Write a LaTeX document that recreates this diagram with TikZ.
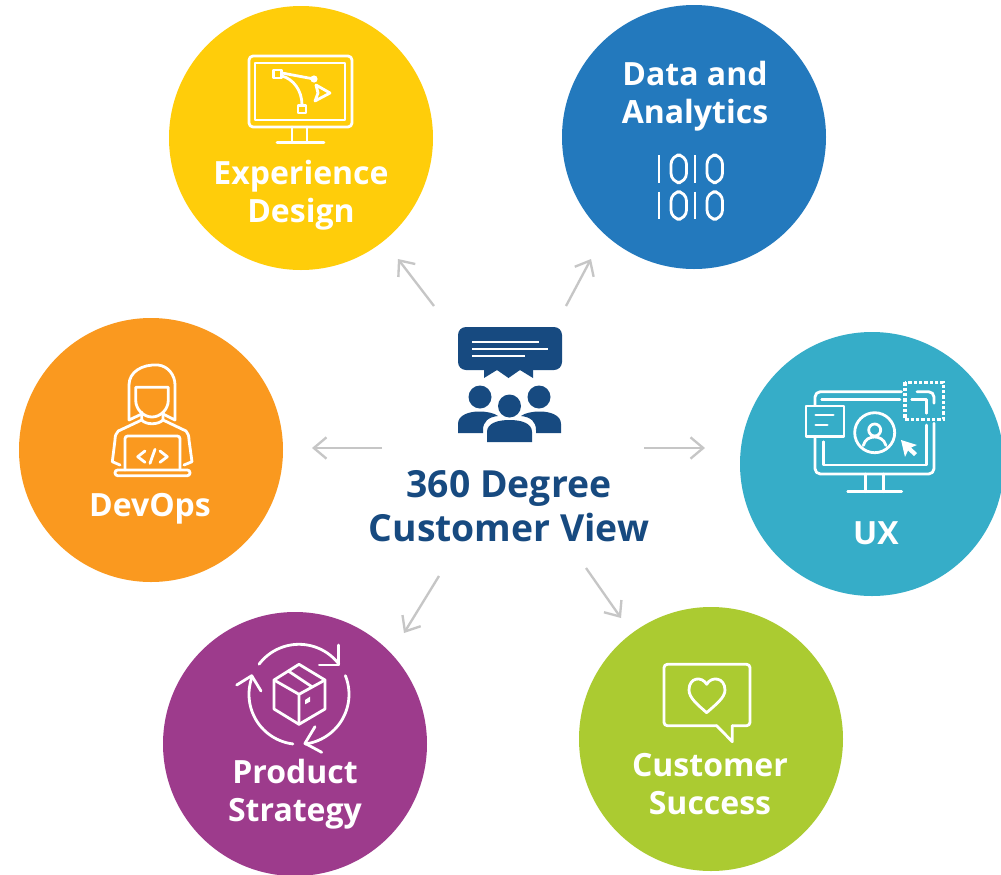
\documentclass[tikz,border=0pt]{standalone}
\usepackage{fontspec}
\setmainfont{Open Sans}
\definecolor{cyellow}{HTML}{FFCD0A}
\definecolor{cblue}{HTML}{2379BD}
\definecolor{cteal}{HTML}{36ADC8}
\definecolor{corange}{HTML}{FA991F}
\definecolor{cpurple}{HTML}{9D3B8C}
\definecolor{cgreen}{HTML}{ABCB31}
\definecolor{cnavy}{HTML}{174A80}
\definecolor{cgrey}{HTML}{C6C6C6}
\usetikzlibrary{arrows.meta}
\tikzset{
  disc/.style={circle,draw=none,minimum size=198pt,inner sep=0pt},
  lab/.style={text=white,font=\fontsize{24}{28.5}\selectfont\bfseries,align=center,inner sep=0pt},
  hublab/.style={text=cnavy,font=\fontsize{28}{33}\selectfont\bfseries,align=center,inner sep=0pt},
  ico/.style={draw=white,line width=2.1pt,line join=round,line cap=round},
  conn/.style={draw=cgrey,line width=1.75pt,-{Straight Barb[length=9.5pt,width=16pt,line width=1.75pt]}},
}
\begin{document}
\begin{tikzpicture}[x=0.75pt,y=-0.75pt]
\useasboundingbox (0,0) rectangle (1001,875);
\fill[white] (0,0) rectangle (1001,875);
\clip (0,0) rectangle (1001,875);
% discs
\node[disc,fill=cyellow] (exp) at (301,138) {};
\node[disc,fill=cblue] (data) at (694,137) {};
\node[disc,fill=cteal] (ux) at (872,464) {};
\node[disc,fill=corange] (dev) at (151,450) {};
\node[disc,fill=cpurple] (prod) at (295,744) {};
\node[disc,fill=cgreen] (cust) at (711,739) {};
% labels
\node[lab] (expl) at (301,195.5) {Experience\\Design};
\node[lab] (datal) at (695,96) {Data and\\Analytics};
\node[lab] (uxl) at (876,533) {UX};
\node[lab] (devl) at (150,508.5) {DevOps};
\node[lab] (prodl) at (295,794) {Product\\Strategy};
\node[lab] (custl) at (710,784) {Customer\\Success};
\node[hublab] (hub) at (509,506) {360 Degree\\Customer View};
% connectors
\coordinate (a1s) at (434,306); \coordinate (a1e) at (398,259);
\coordinate (a2s) at (566,306); \coordinate (a2e) at (591,259);
\coordinate (a3s) at (644,448); \coordinate (a3e) at (705,448);
\coordinate (a4s) at (382,448); \coordinate (a4e) at (312,448);
\coordinate (a5s) at (439,576); \coordinate (a5e) at (404,633);
\coordinate (a6s) at (586,568); \coordinate (a6e) at (621,618);
\foreach \i in {1,...,6} \draw[conn] (a\i s) -- (a\i e);
% hub icon
\fill[cnavy,rounded corners=6pt] (458,327) rectangle (562,370);
\fill[cnavy] (484,368) -- (484,378) -- (497,370) -- (508.5,378) -- (520,370) -- (533,378) -- (533,368) -- cycle;
\draw[white,line width=1.9pt] (472,342) -- (539,342) (472,349) -- (548,349) (472,356) -- (525,356);
\fill[cnavy] (480,397) circle[radius=11.5] (539,397) circle[radius=11.5] (509.5,406) circle[radius=11.5];
\fill[cnavy] (487,442) -- (487,432) .. controls (487,423) and (498,420) .. (509.5,420) .. controls (521,420) and (532,423) .. (532,432) -- (532,442) -- cycle;
\fill[cnavy] (458,433) -- (458,424) .. controls (458,415) and (469,411.5) .. (479,411.5) .. controls (487,411.5) and (494,413) .. (498,416) .. controls (488,417) and (483,422) .. (483,430) -- (483,433) -- cycle;
\fill[cnavy] (561,433) -- (561,424) .. controls (561,415) and (550,411.5) .. (540,411.5) .. controls (532,411.5) and (525,413) .. (521,416) .. controls (531,417) and (536,422) .. (536,430) -- (536,433) -- cycle;
% experience icon
\draw[ico,rounded corners=3pt] (249,56) rectangle (352,127);
\draw[ico] (255,63) rectangle (345,120);
\draw[ico] (292,127) -- (292,142) (307,127) -- (307,142) (277,142.5) -- (324,142.5);
\draw[ico] (273.5,70) rectangle (281.5,78);
\draw[ico] (298,105.5) rectangle (306,113);
\draw[ico] (282,73) -- (314,79);
\draw[ico] (282,76) .. controls (293,79) and (302,90) .. (302,105);
\fill[white] (314,79) circle[radius=3.6];
\draw[ico] (316,85) -- (330,93) -- (315,101) -- (318,93) -- cycle;
% data icon
\foreach \yy in {155,191.7}{
  \draw[ico,line cap=butt] (659,\yy) -- (659,\yy+27.6) (695,\yy) -- (695,\yy+27.6);
  \draw[ico,rounded corners=7pt] (671,\yy) rectangle (686.5,\yy+27.6);
  \draw[ico,rounded corners=7pt] (707,\yy) rectangle (722.5,\yy+27.6);
}
% ux icon
\draw[ico,rounded corners=4pt] (815,405) -- (815,391.7) -- (901.5,391.7);
\draw[ico,rounded corners=4pt] (917,391.7) -- (934,391.7) -- (934,403.3);
\draw[ico,rounded corners=4pt] (934,423.3) -- (934,474) -- (815,474) -- (815,438.3);
\draw[ico] (821.7,399.3) -- (900,399.3);
\draw[ico] (911.7,399.3) -- (926.7,399.3) -- (926.7,413.3);
\draw[ico] (926.7,425) -- (926.7,465) -- (823.3,465) -- (823.3,441.7);
\draw[white,line width=2.6pt,dash pattern=on 2.4pt off 1.6pt] (905,382.3) rectangle (943.3,419.3);
\draw[ico] (806,406) rectangle (844,436.7);
\draw[ico] (815.7,415) -- (833.3,415) (815.7,425) -- (827.3,425);
\draw[ico] (874.7,432.7) circle[radius=20];
\draw[ico] (874.7,430) circle[radius=6];
\draw[ico] (863.3,445.5) .. controls (865,439) and (870,437) .. (874.7,437) .. controls (879,437) and (884,439) .. (886,445.5);
\fill[white] (901,440) -- (917,445) -- (911,447.5) -- (917,453) -- (914,456) -- (908,450.5) -- (905,457) -- cycle;
\draw[ico] (865.7,474) -- (865.7,491.7) (883.3,474) -- (883.3,491.7) (847.7,491.7) -- (901.7,491.7);
% devops icon
\draw[ico] (141.7,414) -- (129,420) -- (129,385) .. controls (129,372) and (142,364) .. (158,365) .. controls (168,366) and (175,375) .. (175,385) -- (175,420) -- (163,414);
\draw[ico] (135.7,387.3) -- (168.3,387.3) -- (168.3,400) .. controls (168.3,410) and (160,417) .. (152,417) .. controls (144,417) and (135.7,410) .. (135.7,400) -- cycle;
\draw[ico] (141.7,412) -- (141.7,420) -- (118.3,431) .. controls (116,433) and (115,436) .. (115,440) -- (112.3,461.7) -- (120,465);
\draw[ico] (163,412) -- (163,420) -- (186,431) .. controls (188,433) and (189,436) .. (189,440) -- (192,461.7) -- (184,465);
\draw[ico] (141.7,420) .. controls (146,425) and (158,425) .. (163,420);
\draw[ico,rounded corners=2pt] (125,470) -- (125,436) -- (180,436) -- (180,470);
\draw[ico,rounded corners=2pt] (115,470) -- (190,470) -- (190,475.7) -- (115,475.7) -- cycle;
\draw[ico] (145,451) -- (137.7,456.7) -- (145,462.3) (160,451) -- (167.3,456.7) -- (160,462.3) (155,449.3) -- (150,463.3);
% product icon
\draw[ico] plot[domain=217:323,samples=40] ({299+50*cos(\x)},{694.3+50*sin(\x)});
\draw[ico] plot[domain=-22:83,samples=40] ({299+50*cos(\x)},{694.3+50*sin(\x)});
\draw[ico] plot[domain=97:201,samples=40] ({299+50*cos(\x)},{694.3+50*sin(\x)});
\draw[ico] (338.3,645) -- (338.3,665) -- (319.3,665);
\draw[ico] (315,726.7) -- (305,743.3) -- (321.7,752.3);
\draw[ico] (236.7,685) -- (251.7,675.7) -- (261,691);
\draw[ico] (299,664.3) -- (325,680) -- (325,709) -- (299,724.3) -- (274,709) -- (274,680) -- cycle;
\draw[ico] (274,680) -- (299,694.3) -- (325,680) (299,694.3) -- (299,724.3) (288.3,671) -- (312.3,687);
\fill[white] (305,700) -- (310,696.7) -- (310,701.7) -- (305,704.3) -- cycle;
% customer icon
\draw[ico,rounded corners=2.5pt] (716.7,725.7) -- (664,725.7) -- (664,664.3) -- (750,664.3) -- (750,725.7) -- (732.3,725.7);
\draw[ico] (716.7,725.7) -- (732.3,741.7) -- (732.3,725.7);
\draw[ico] (706.7,684.3) .. controls (711,676) and (725,677) .. (725,690) .. controls (725,698) and (715,705) .. (706.7,712.7) .. controls (698,705) and (689,698) .. (689,690) .. controls (689,677) and (702,676) .. (706.7,684.3) -- cycle;
\end{tikzpicture}
\end{document}
